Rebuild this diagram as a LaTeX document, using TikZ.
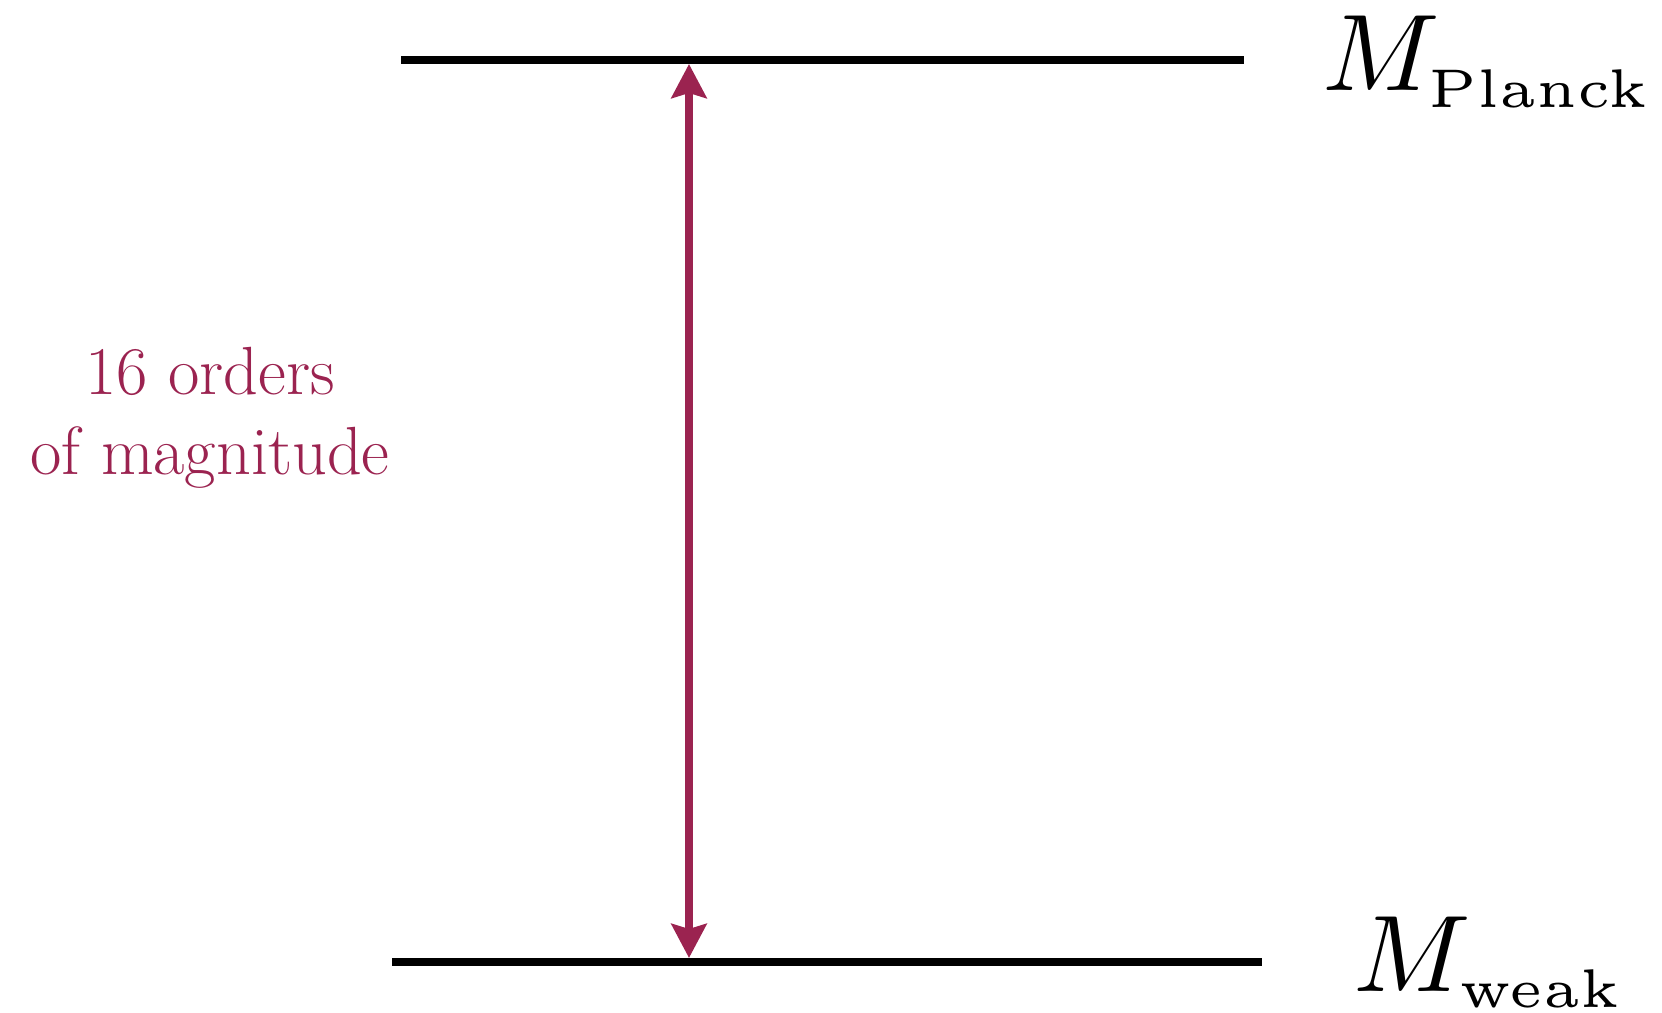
\documentclass[tikz,border=0pt]{standalone}
\usepackage{amsmath, amssymb}
\usepackage{tikz}
\usetikzlibrary{arrows.meta}
\definecolor{gapred}{RGB}{155,35,80}
\tikzset{
  level/.style={line width=2.3pt, black},
  gaparrow/.style={line width=2.2pt, gapred, {Stealth[length=3.4mm, width=3.5mm, inset=0.5mm]}-{Stealth[length=3.4mm, width=3.5mm, inset=0.5mm]}},
  scalelabel/.style={inner sep=0pt, anchor=base west}
}

\begin{document}
\begin{tikzpicture}
\useasboundingbox (0,0) rectangle (16.62,10.13);

% Hai mức năng lượng (Planck ở trên, weak ở dưới)
\coordinate (planckL) at (4.01,9.53);
\coordinate (planckR) at (12.44,9.53);
\coordinate (weakL) at (3.92,0.51);
\coordinate (weakR) at (12.62,0.51);
\draw[level] (planckL) -- (planckR);
\draw[level] (weakL) -- (weakR);

% Mũi tên hai đầu giữa hai mức
\coordinate (gaptop) at (6.89,9.49);
\coordinate (gapbot) at (6.89,0.55);
\draw[gaparrow] (gaptop) -- (gapbot);

% Nhãn khoảng cách
\node[align=center, text=gapred, font=\fontsize{19.4}{22.8}\selectfont] (gaptext) at (2.10,5.95) {16 orders\\of magnitude};

% Nhãn các mức
\node[scalelabel] (planck) at (13.22,9.22) {\scalebox{3.1}{$M_{\mbox{\fontsize{5}{6}\selectfont Planck}}$}};
\node[scalelabel] (weak) at (13.53,0.22) {\scalebox{3.1}{$M_{\mbox{\fontsize{5}{6}\selectfont weak}}$}};
\end{tikzpicture}
\end{document}
